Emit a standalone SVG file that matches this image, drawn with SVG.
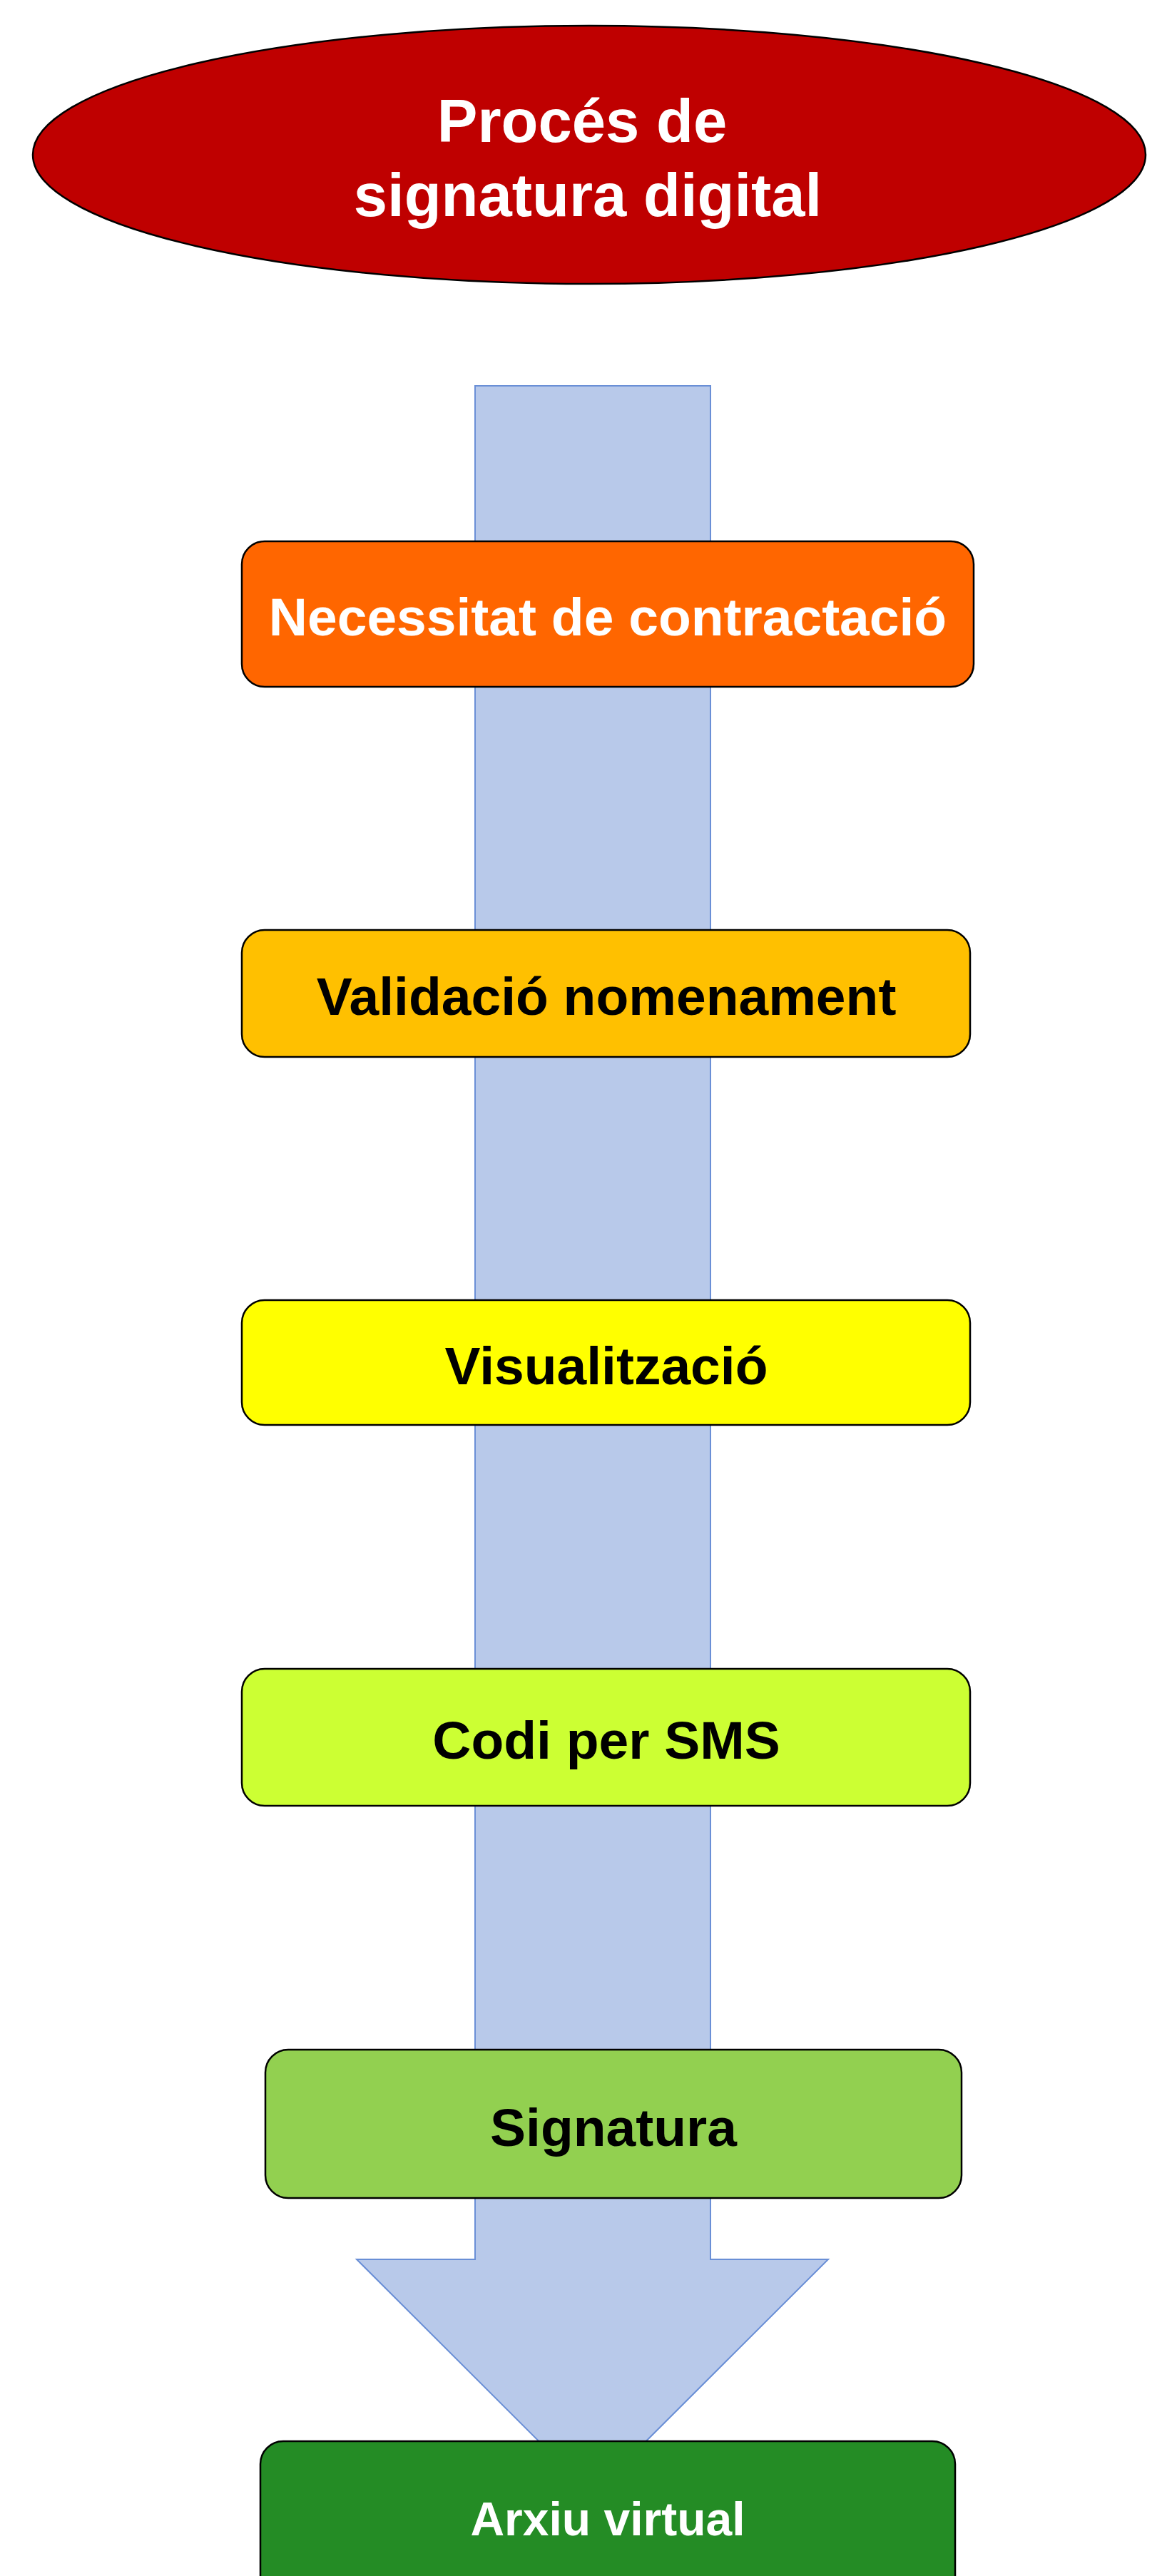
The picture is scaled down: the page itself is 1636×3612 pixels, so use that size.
<svg xmlns="http://www.w3.org/2000/svg" width="1636" height="3612" viewBox="0 0 1636 3612">
<style>
.box{stroke:#000;stroke-width:2.5}
.t{font-family:"Liberation Sans",Arial,sans-serif;font-weight:bold;text-anchor:middle}
.w{fill:#fff}
.k{fill:#000}
</style>
<rect width="1636" height="3612" fill="#fff"/>
<g id="connectors">
<polygon points="666,541 996,541 996,3168 1161,3168 830.5,3498 500,3168 666,3168" fill="#b8c9ea" stroke="#6a8fd6" stroke-width="2"/>
</g>
<g id="title">
<ellipse cx="826" cy="217" rx="780" ry="181" fill="#bf0000" stroke="#000" stroke-width="2.5"/>
<text class="t w" x="816" y="199" font-size="85">Procés de</text>
<text class="t w" x="824" y="303" font-size="85">signatura digital</text>
</g>
<g id="n1">
<rect class="box" x="339" y="759" width="1026" height="204" rx="32" fill="#ff6600"/>
<text class="t w" x="852" y="891" font-size="75">Necessitat de contractació</text>
</g>
<g id="n2">
<rect class="box" x="339" y="1304" width="1021" height="178" rx="32" fill="#ffc000"/>
<text class="t k" x="850" y="1423" font-size="75">Validació nomenament</text>
</g>
<g id="n3">
<rect class="box" x="339" y="1823" width="1021" height="175" rx="32" fill="#ffff00"/>
<text class="t k" x="850" y="1941" font-size="75">Visualització</text>
</g>
<g id="n4">
<rect class="box" x="339" y="2340" width="1021" height="192" rx="32" fill="#ccff33"/>
<text class="t k" x="850" y="2466" font-size="75">Codi per SMS</text>
</g>
<g id="n5">
<rect class="box" x="372" y="2874" width="976" height="208" rx="32" fill="#92d050"/>
<text class="t k" x="860" y="3009" font-size="75">Signatura</text>
</g>
<g id="n6">
<rect class="box" x="365" y="3423" width="974" height="230" rx="32" fill="#248c25"/>
<text class="t w" x="852" y="3555" font-size="66">Arxiu virtual</text>
</g>
</svg>
